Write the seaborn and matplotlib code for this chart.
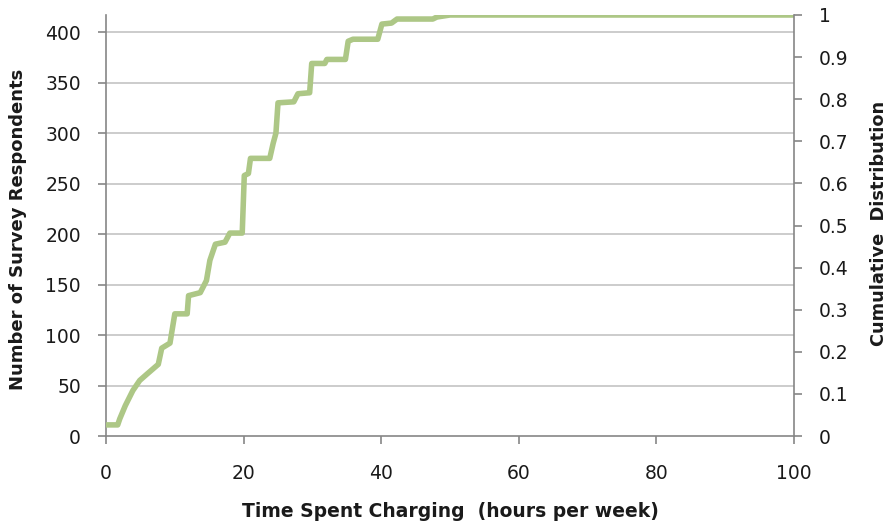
import numpy as np
import pandas as pd
import seaborn as sns
import matplotlib.pyplot as plt

# Vertices of the cumulative curve
hours = [0, 1.7, 2.0, 2.8, 3.9, 4.9, 5.9, 7.6, 8.1, 9.3, 10.0, 11.8, 12.0, 13.7,
         14.6, 15.1, 15.9, 17.3, 18.0, 19.8, 20.1, 20.7, 21.0, 23.8, 24.3, 24.7,
         25.0, 27.3, 27.9, 29.6, 29.9, 31.8, 32.1, 34.8, 35.2, 35.9, 39.5, 40.1,
         41.5, 42.3, 47.5, 48.1, 50.0, 100.0]
respondents = [11, 11, 17, 30, 45, 55, 61, 71, 87, 92, 121, 121, 139, 142,
               154, 174, 190, 192, 201, 201, 258, 260, 275, 275, 290, 300,
               330, 331, 339, 340, 369, 369, 373, 373, 391, 393, 393, 408,
               409, 413, 413, 415, 417, 417]
left_ticks = [0, 50, 100, 150, 200, 250, 300, 350, 400]
right_ticks = [0, 0.1, 0.2, 0.3, 0.4, 0.5, 0.6, 0.7, 0.8, 0.9, 1]
x_ticks = [0, 20, 40, 60, 80, 100]
total = 417

df = pd.DataFrame({'hours': hours, 'respondents': respondents})

sns.set_style('white')
plt.rcParams['font.family'] = ['DejaVu Sans']

fig = plt.figure(figsize=(8.89, 5.27), dpi=100)
ax = fig.add_axes([106 / 889, 1 - 436 / 527, 688 / 889, 421 / 527])

axis_col = '#868686'
grid_col = '#c8c8c8'

for t in left_ticks[1:]:
    ax.axhline(t, color=grid_col, lw=1.3, zorder=0)

sns.lineplot(data=df, x='hours', y='respondents', sort=False, estimator=None,
             color='#adc786', lw=4.0, ax=ax, zorder=3)

ax.set_xlim(0, 100)
ax.set_ylim(0, total)
ax.set_xticks(x_ticks)
ax.set_yticks(left_ticks)
ax.set_xticklabels([str(t) for t in x_ticks])
ax.set_yticklabels([str(t) for t in left_ticks])

ax2 = ax.twinx()
ax2.set_ylim(0, 1)
ax2.set_yticks(right_ticks)
ax2.set_yticklabels(['0' if t == 0 else ('1' if t == 1 else f'{t:g}') for t in right_ticks])

for a in (ax, ax2):
    for s in a.spines.values():
        s.set_color(axis_col)
        s.set_linewidth(1.2)
    a.spines['top'].set_visible(False)

ax.spines['right'].set_visible(False)
ax2.spines['left'].set_visible(False)
ax2.spines['bottom'].set_visible(False)

ax.tick_params(axis='both', which='major', direction='out', length=6, width=1.2,
               color=axis_col, labelsize=13.5, labelcolor='#1a1a1a')
ax.tick_params(axis='y', left=True, pad=12)
ax.tick_params(axis='x', bottom=True, pad=14)
ax2.tick_params(axis='y', right=True, direction='out', length=6, width=1.2,
                color=axis_col, labelsize=13.5, labelcolor='#1a1a1a', pad=12)

ax.set_xlabel('Time Spent Charging  (hours per week)', fontsize=13.5,
              fontweight='bold', color='#1a1a1a')
ax.set_ylabel('Number of Survey Respondents', fontsize=13, fontweight='bold',
              color='#1a1a1a')
ax2.set_ylabel('Cumulative  Distribution', fontsize=12.8, fontweight='bold',
               color='#1a1a1a', rotation=90)
ax.xaxis.set_label_coords(0.5, -0.157)
ax.yaxis.set_label_coords(-0.115, 0.49)
ax2.yaxis.set_label_coords(1.111, 0.505)

fig.savefig('out.png', dpi=100)
